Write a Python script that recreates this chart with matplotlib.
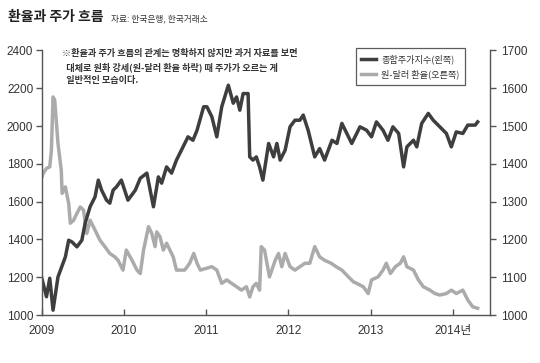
import matplotlib
matplotlib.use("Agg")
import matplotlib.pyplot as plt
import matplotlib.transforms as mtransforms

plt.rcParams['font.family'] = ['Liberation Sans', 'Noto Sans CJK KR']

# 종합주가지수 (왼쪽 축)
kospi_t = [2009.00, 2009.06, 2009.10, 2009.14, 2009.20, 2009.29, 2009.33, 2009.37, 2009.43,
           2009.49, 2009.53, 2009.59, 2009.65, 2009.69, 2009.73, 2009.79, 2009.83, 2009.87,
           2009.91, 2009.97, 2010.01, 2010.05, 2010.14, 2010.20, 2010.28, 2010.36, 2010.42,
           2010.46, 2010.52, 2010.58, 2010.64, 2010.72, 2010.78, 2010.84, 2010.89, 2010.97,
           2011.01, 2011.07, 2011.13, 2011.19, 2011.27, 2011.33, 2011.37, 2011.41, 2011.45,
           2011.51, 2011.53, 2011.57, 2011.61, 2011.65, 2011.69, 2011.76, 2011.82, 2011.86,
           2011.90, 2011.96, 2012.02, 2012.08, 2012.14, 2012.18, 2012.24, 2012.32, 2012.38,
           2012.44, 2012.53, 2012.59, 2012.65, 2012.71, 2012.77, 2012.87, 2012.95, 2013.01,
           2013.07, 2013.15, 2013.21, 2013.27, 2013.34, 2013.40, 2013.44, 2013.52, 2013.56,
           2013.62, 2013.70, 2013.76, 2013.84, 2013.92, 2013.98, 2014.04, 2014.12, 2014.18,
           2014.27, 2014.30]
kospi = [1201, 1097, 1195, 1026, 1202, 1308, 1396, 1387, 1361,
         1396, 1486, 1573, 1625, 1714, 1661, 1608, 1592, 1661,
         1678, 1714, 1661, 1608, 1661, 1724, 1751, 1573, 1731,
         1698, 1784, 1751, 1820, 1890, 1943, 1925, 1978, 2102,
         2102, 2049, 1943, 2102, 2216, 2121, 2154, 2084, 2172,
         2172, 1837, 1820, 1837, 1784, 1714, 1908, 1837, 1908,
         1820, 1872, 1996, 2031, 2031, 2058, 1978, 1837, 1881,
         1820, 1925, 1908, 2014, 1961, 1908, 1996, 1978, 1943,
         2022, 1978, 1925, 1996, 1961, 1784, 1890, 1925, 1890,
         2014, 2067, 2031, 1996, 1961, 1890, 1969, 1961, 2005,
         2005, 2022]

# 원-달러 환율 (오른쪽 축)
fx_t = [2009.00, 2009.02, 2009.06, 2009.10, 2009.12, 2009.14, 2009.16, 2009.20, 2009.24,
        2009.25, 2009.29, 2009.33, 2009.35, 2009.39, 2009.43, 2009.47, 2009.51, 2009.55,
        2009.59, 2009.65, 2009.71, 2009.77, 2009.83, 2009.89, 2009.93, 2009.99, 2010.03,
        2010.10, 2010.16, 2010.20, 2010.24, 2010.30, 2010.34, 2010.38, 2010.40, 2010.44,
        2010.48, 2010.52, 2010.56, 2010.60, 2010.64, 2010.74, 2010.80, 2010.85, 2010.89,
        2010.93, 2011.07, 2011.13, 2011.19, 2011.25, 2011.31, 2011.37, 2011.43, 2011.49,
        2011.53, 2011.57, 2011.61, 2011.65, 2011.67, 2011.71, 2011.77, 2011.84, 2011.88,
        2011.92, 2011.96, 2012.02, 2012.08, 2012.14, 2012.20, 2012.26, 2012.32, 2012.38,
        2012.44, 2012.52, 2012.58, 2012.65, 2012.73, 2012.79, 2012.83, 2012.91, 2012.97,
        2013.01, 2013.09, 2013.15, 2013.19, 2013.24, 2013.30, 2013.36, 2013.40, 2013.44,
        2013.52, 2013.58, 2013.64, 2013.72, 2013.78, 2013.84, 2013.92, 2013.98, 2014.04,
        2014.12, 2014.18, 2014.24, 2014.30]
fx = [1362, 1375, 1388, 1392, 1436, 1577, 1569, 1454, 1383,
      1322, 1339, 1295, 1243, 1251, 1269, 1286, 1278, 1216,
      1251, 1225, 1198, 1181, 1163, 1154, 1145, 1119, 1172,
      1145, 1119, 1110, 1172, 1234, 1216, 1181, 1220, 1207,
      1172, 1190, 1172, 1154, 1119, 1119, 1137, 1163, 1137,
      1119, 1128, 1119, 1084, 1093, 1084, 1075, 1066, 1075,
      1048, 1075, 1084, 1066, 1181, 1172, 1101, 1145, 1163,
      1128, 1163, 1128, 1119, 1128, 1137, 1137, 1181, 1154,
      1145, 1137, 1128, 1119, 1101, 1088, 1084, 1075, 1057,
      1093, 1101, 1119, 1137, 1110, 1128, 1137, 1154, 1128,
      1119, 1093, 1075, 1066, 1057, 1053, 1057, 1066, 1057,
      1066, 1040, 1022, 1018]

year_ticks = [2009, 2010, 2011, 2012, 2013, 2014]
year_labels = ['2009', '2010', '2011', '2012', '2013', '2014년']

dark = '#3e3e3e'
light = '#ababab'
axis_col = '#555555'
text_col = '#333333'
kr = ['Noto Sans CJK KR', 'DejaVu Sans']

fig = plt.figure(figsize=(5.4, 3.63), dpi=100)
ax = fig.add_axes([0.0769, 0.132, 0.8305, 0.729])
ax2 = ax.twinx()

l2, = ax2.plot(fx_t, fx, color=light, lw=2.5, solid_joinstyle='round')
l1, = ax.plot(kospi_t, kospi, color=dark, lw=2.5, solid_joinstyle='round')
ax.set_zorder(ax2.get_zorder() + 1)
ax.patch.set_visible(False)

ax.set_xlim(2009, 2014.45)
ax.set_ylim(1000, 2400)
ax2.set_ylim(1000, 1700)
ax.set_yticks(range(1000, 2401, 200))
ax2.set_yticks(range(1000, 1701, 100))
ax.set_xticks(year_ticks)
ax.set_xticklabels(year_labels)
# 2014년: 숫자 부분이 눈금 가운데에 오도록 살짝 이동
lab = ax.get_xticklabels()[-1]
lab.set_transform(lab.get_transform() + mtransforms.ScaledTranslation(5 / 100, 0, fig.dpi_scale_trans))

for a in (ax, ax2):
    a.spines['top'].set_visible(False)
    for s in a.spines.values():
        s.set_color(axis_col)
        s.set_linewidth(1.0)
ax.spines['right'].set_visible(False)
ax2.spines['left'].set_visible(False)
ax2.spines['bottom'].set_visible(False)

ax.tick_params(axis='y', direction='out', length=4, width=1, color=axis_col,
               labelsize=8.5, labelcolor=text_col, pad=2)
ax.tick_params(axis='x', direction='in', length=4, width=1, color=axis_col,
               labelsize=8.5, labelcolor=text_col, pad=7)
ax2.tick_params(axis='y', direction='out', length=4, width=1, color=axis_col,
                labelsize=8.5, labelcolor=text_col, pad=4)

# 제목
fig.text(0.015, 0.953, '환율과 주가 흐름', fontsize=10, fontweight='bold',
         color='#222222', va='center', family=kr)
fig.text(0.206, 0.947, '자료: 한국은행, 한국거래소', fontsize=6.3,
         color='#333333', va='center', family=kr)

# 설명문
note = ('※환율과 주가 흐름의 관계는 명확하지 않지만 과거 자료를 보면\n'
        '  대체로 원화 강세(원-달러 환율 하락) 때 주가가 오르는 게\n'
        '  일반적인 모습이다.')
ax.text(0.045, 1.005, note, transform=ax.transAxes, fontsize=6.6, color=text_col,
        fontweight='bold', va='top', ha='left', linespacing=1.55, family=kr)

leg = ax.legend([l1, l2], ['종합주가지수(왼쪽)', '원-달러 환율(오른쪽)'],
                loc='upper left', bbox_to_anchor=(0.69, 1.025),
                frameon=True, fancybox=False, handlelength=1.6, handletextpad=0.6,
                borderpad=0.6, labelspacing=0.65, prop={'family': kr, 'size': 6.6})
leg.get_frame().set_edgecolor('#333333')
leg.get_frame().set_linewidth(0.9)
for t in leg.get_texts():
    t.set_color(text_col)

fig.savefig('out.png', dpi=100, facecolor='white')
